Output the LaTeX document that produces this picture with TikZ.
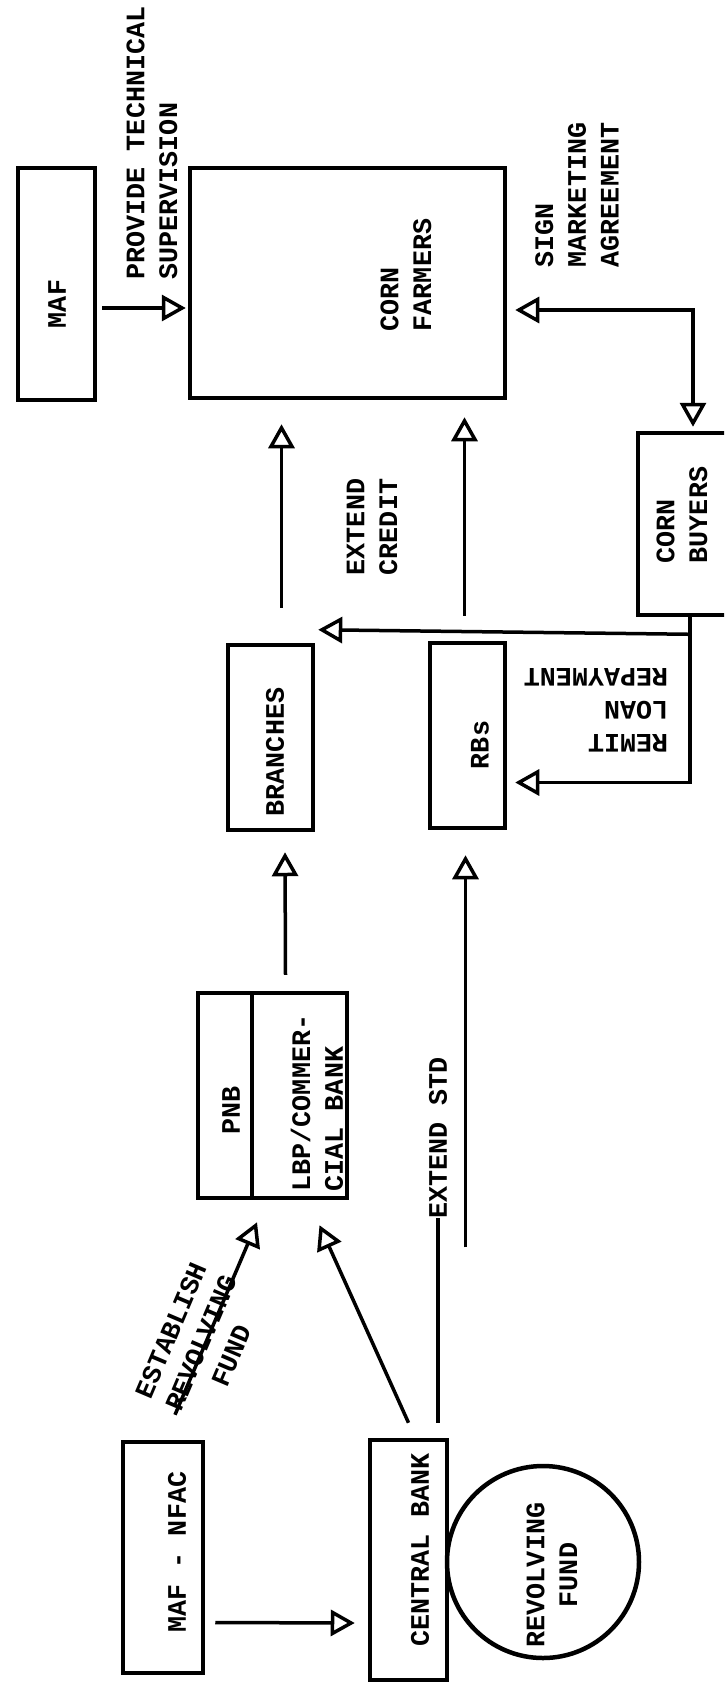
\documentclass[tikz,border=0pt]{standalone}
\usepackage{fontspec}
\newfontfamily\typew{Liberation Mono}
\usepackage{tikz}
\usetikzlibrary{calc, positioning}
\usetikzlibrary{arrows.meta}
\newlength{\unitpx}
\setlength{\unitpx}{0.03cm}
\newcommand{\boxtext}{\typew\bfseries\fontsize{22.8}{28}\selectfont}

\begin{document}
\begin{tikzpicture}[x=0.03cm, y=-0.03cm,
    box/.style={draw, line width=4.5\unitpx, inner sep=0pt},
    lettering/.style={font=\boxtext, align=left, inner sep=0pt},
    txt/.style={lettering, rotate=90},
    flow/.style={line width=3.5\unitpx, -{Triangle[open, length=0.72cm, width=0.78cm]}},
    both/.style={line width=3.5\unitpx, {Triangle[open, length=0.72cm, width=0.78cm]}-{Triangle[open, length=0.72cm, width=0.78cm]}},
    plain/.style={line width=3.5\unitpx}]

    \clip (0,0) rectangle (724,1684);
    \fill[white] (0,0) rectangle (724,1684);

    % top row
    \node[box, minimum width=77\unitpx, minimum height=232\unitpx] (maf) at (56.5,284) {};
    \node[txt] (maf-t) at (57,304) {MAF};
    \node[box, minimum width=315\unitpx, minimum height=230\unitpx] (farmers) at (347.5,283) {};
    \node[txt] (farmers-t) at (406,275) {CORN\\FARMERS};
    \node[txt] (super-t) at (152,143) {PROVIDE TECHNICAL\\SUPERVISION};
    \node[txt] (sign-t) at (577,195) {SIGN\\MARKETING\\AGREEMENT};
    \node[box, minimum width=102\unitpx, minimum height=182\unitpx] (buyers) at (689,524) {};
    \node[txt] (buyers-t) at (682,515) {CORN\\BUYERS};

    % middle row
    \node[box, minimum width=85\unitpx, minimum height=185\unitpx] (branches) at (270.5,737.5) {};
    \node[txt] (branches-t) at (275,752) {BRANCHES};
    \node[box, minimum width=75\unitpx, minimum height=185\unitpx] (rbs) at (467.5,735.5) {};
    \node[txt] (rbs-t) at (480,745) {RBs};
    \node[txt] (credit-t) at (372,527) {EXTEND\\CREDIT};
    \node[lettering, rotate=180] (remit-t) at (596,710) {REMIT\\LOAN\\REPAYMENT};

    % banks
    \node[box, minimum width=54\unitpx, minimum height=205\unitpx] (pnb) at (225,1095.5) {};
    \node[box, minimum width=95\unitpx, minimum height=205\unitpx] (lbp) at (299.5,1095.5) {};
    \node[txt] (pnb-t) at (231,1110) {PNB};
    \node[txt] (lbp-t) at (317,1103) {LBP/COMMER-\\CIAL BANK};
    \node[txt] (std-t) at (438,1138) {EXTEND STD};
    \node[lettering, align=center, rotate=67] (est-t) at (201,1343) {ESTABLISH\\REVOLVING\\FUND};

    % bottom row
    \node[box, minimum width=80\unitpx, minimum height=231\unitpx] (nfac) at (163,1557.5) {};
    \node[txt] (nfac-t) at (177,1552) {MAF - NFAC};
    \node[box, minimum width=77\unitpx, minimum height=240\unitpx] (cbank) at (408.5,1560) {};
    \node[txt] (cbank-t) at (420,1550) {CENTRAL BANK};
    \node[box, circle, minimum size=192\unitpx] (fund) at (543,1562) {};
    \node[txt, align=center] (fund-t) at (552,1575) {REVOLVING\\FUND};

    % connectors
    \draw[flow] ($(maf.east)+(5,24)$) -- ($(farmers.west)+(-2,25)$);
    \draw[both] ($(farmers.east)+(8,27)$) -| ($(buyers.north)+(4,-4)$);
    \draw[flow] ($(branches.north)+(11,-35)$) -- ($(branches.north |- farmers.south)+(11,24)$);
    \draw[flow] ($(rbs.north)+(-3,-25)$) -- ($(rbs.north |- farmers.south)+(-3,17)$);
    \draw[flow] ($(buyers.south)+(1,0)$) |- ($(rbs.east)+(8,47)$);
    \draw[flow] ($(buyers.south)+(-1,17)$) -- ($(branches.north east)+(3,-13)$);
    \draw[flow] ($(lbp.north)+(-14,-16)$) -- ($(branches.south)+(14.5,20)$);
    \draw[plain] ($(cbank.north)+(29.5,-15)$) -- (std-t.west);
    \draw[flow] ($(rbs.south)+(-2,417)$) -- ($(rbs.south)+(-2,25)$);
    \draw[flow] ($(cbank.north)+(0,-15)$) -- ($(lbp.south)+(20,25)$);
    \draw[flow] ($(nfac.north)+(12,-25)$) -- ($(pnb.south)+(32,22)$);
    \draw[flow] ($(nfac.east)+(10,65)$) -- ($(cbank.west)+(-13,63)$);

\end{tikzpicture}
\end{document}
